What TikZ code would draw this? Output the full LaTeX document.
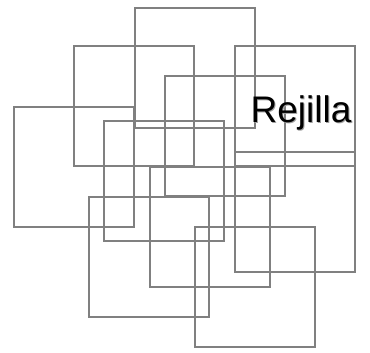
\documentclass[tikz,border=0pt]{standalone}
\usepackage{fontspec}
\setmainfont{Liberation Sans}
\usepackage{xcolor}
\usetikzlibrary{positioning}
\definecolor{gridline}{HTML}{808080}
\definecolor{shadowgray}{HTML}{A0A0A0}

\begin{document}
\begin{tikzpicture}[x=1pt, y=1pt,
    cell/.style={draw=gridline, line width=1.7pt, minimum size=120pt, inner sep=0pt, outer sep=0pt, anchor=north west},
    title/.style={font=\fontsize{37}{40}\selectfont, inner sep=0pt, anchor=base west}
]
    \useasboundingbox (0,0) rectangle (370,-353);
    % overlapping squares
    \foreach \name/\px/\py in {sqa/135/8, sqb/74/46, sqc/14/107, sqd/165/76, sqe/104/121,
        sqf/150/167, sqg/235/46, sqh/235/152, sqi/89/197, sqj/195/227}
        \node[cell] (\name) at (\px,-\py) {};

    \node[title, text=shadowgray] (titleshadow) at (251.5,-124) {Rejilla};
    \node[title, text=black] (titletext) at (250.5,-123) {Rejilla};
\end{tikzpicture}
\end{document}
